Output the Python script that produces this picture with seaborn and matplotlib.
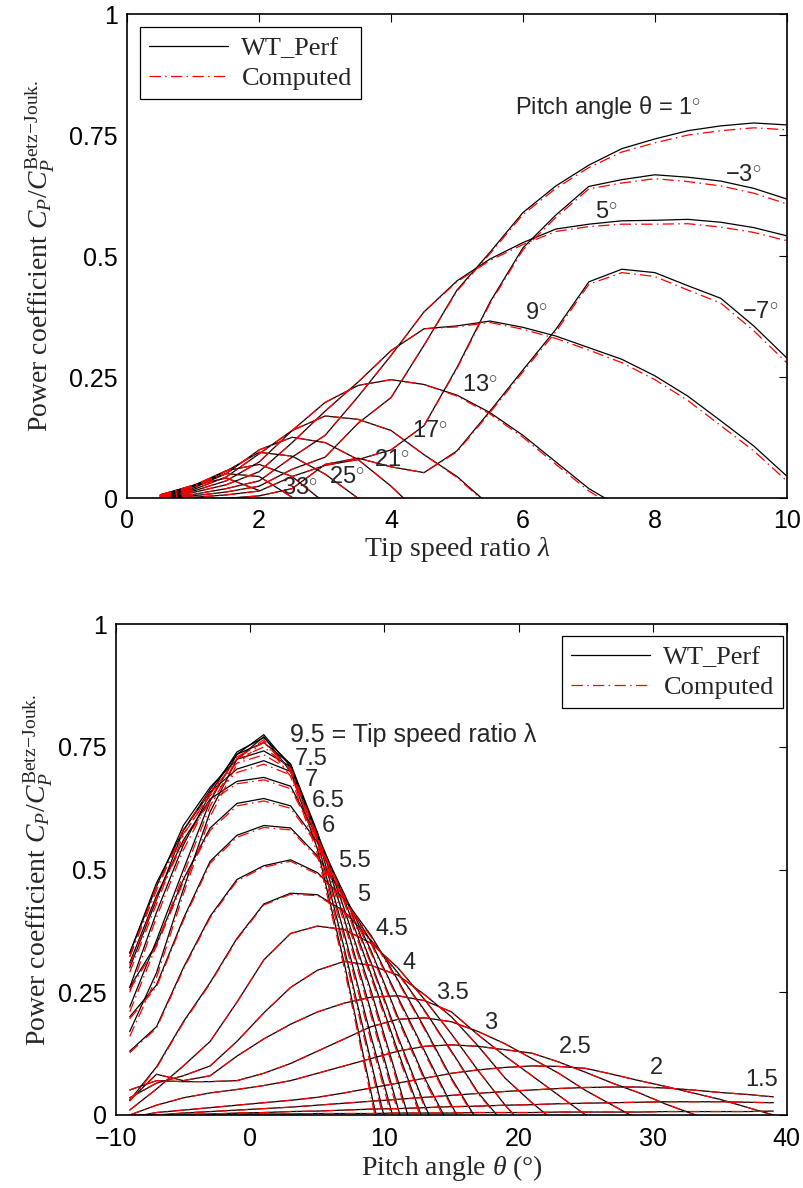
import numpy as np
import pandas as pd
import matplotlib
matplotlib.use("Agg")
import matplotlib.pyplot as plt
import seaborn as sns
from matplotlib.lines import Line2D

# ---------------- data ----------------
pitch_deg = [-9, -7, -5, -3, -1, 1, 3, 5, 7, 9, 11, 13, 15, 17, 19, 21, 23, 25,
             27, 29, 31, 33, 35, 37, 39]
tsr = [0.5, 1.0, 1.5, 2.0, 2.5, 3.0, 3.5, 4.0, 4.5, 5.0, 5.5, 6.0, 6.5, 7.0,
       7.5, 8.0, 8.5, 9.0, 9.5, 10.0]

# WT_Perf Cp / Cp_Betz for each tip speed ratio (rows) across pitch angles
cp_tsr_0_5 = [0.0, 0.0, 0.001, 0.001, 0.002, 0.002, 0.002, 0.003, 0.003, 0.003, 0.004, 0.004, 0.004,
              0.005, 0.005, 0.005, 0.006, 0.006, 0.006, 0.006, 0.007, 0.007, 0.007, 0.007, 0.008]
cp_tsr_1_0 = [0.0, 0.0, 0.001, 0.002, 0.004, 0.005, 0.007, 0.008, 0.010, 0.012, 0.013, 0.015, 0.017,
              0.018, 0.020, 0.021, 0.023, 0.024, 0.025, 0.026, 0.027, 0.027, 0.027, 0.026, 0.025]
cp_tsr_1_5 = [-0.005, 0.0, 0.004, 0.007, 0.010, 0.013, 0.016, 0.020, 0.024, 0.028, 0.032, 0.036, 0.040,
              0.044, 0.048, 0.051, 0.054, 0.056, 0.057, 0.057, 0.055, 0.051, 0.046, 0.042, 0.037]
cp_tsr_2_0 = [-0.005, 0.005, 0.010, 0.015, 0.020, 0.025, 0.030, 0.036, 0.045, 0.055, 0.065, 0.075, 0.085,
              0.092, 0.097, 0.100, 0.099, 0.095, 0.083, 0.070, 0.058, 0.045, 0.032, 0.016, 0.0]
cp_tsr_2_5 = [0.0, 0.020, 0.035, 0.045, 0.052, 0.060, 0.070, 0.085, 0.100, 0.115, 0.130, 0.140, 0.143,
              0.140, 0.133, 0.126, 0.108, 0.087, 0.065, 0.045, 0.022, 0.002, -0.02]
cp_tsr_3_0 = [0.051, 0.070, 0.068, 0.068, 0.070, 0.085, 0.105, 0.130, 0.155, 0.180, 0.195, 0.198, 0.190,
              0.170, 0.145, 0.115, 0.085, 0.050, 0.020, -0.01]
cp_tsr_3_5 = [0.030, 0.083, 0.070, 0.080, 0.120, 0.155, 0.185, 0.210, 0.228, 0.240, 0.243, 0.233, 0.210,
              0.163, 0.120, 0.080, 0.040, 0.0, -0.04]
cp_tsr_4_0 = [0.035, 0.065, 0.080, 0.100, 0.150, 0.208, 0.260, 0.295, 0.313, 0.305, 0.285, 0.245, 0.200,
              0.140, 0.075, 0.025, -0.02]
cp_tsr_4_5 = [0.010, 0.053, 0.100, 0.150, 0.230, 0.316, 0.370, 0.385, 0.378, 0.350, 0.300, 0.235, 0.165,
              0.090, 0.020, -0.04]
cp_tsr_5_0 = [0.030, 0.098, 0.190, 0.270, 0.360, 0.430, 0.452, 0.449, 0.415, 0.356, 0.290, 0.213, 0.130,
              0.045, -0.02]
cp_tsr_5_5 = [0.130, 0.180, 0.300, 0.405, 0.480, 0.508, 0.520, 0.494, 0.440, 0.366, 0.275, 0.177, 0.075,
              -0.015]
cp_tsr_6_0 = [0.200, 0.265, 0.400, 0.517, 0.570, 0.590, 0.585, 0.528, 0.445, 0.353, 0.240, 0.130, 0.020,
              -0.08]
cp_tsr_6_5 = [0.260, 0.349, 0.480, 0.585, 0.635, 0.645, 0.630, 0.556, 0.450, 0.335, 0.200, 0.075, -0.03]
cp_tsr_7_0 = [0.310, 0.447, 0.560, 0.644, 0.680, 0.688, 0.670, 0.566, 0.450, 0.311, 0.160, 0.020, -0.10]
cp_tsr_7_5 = [0.330, 0.473, 0.580, 0.658, 0.705, 0.722, 0.700, 0.573, 0.440, 0.287, 0.130, -0.02]
cp_tsr_8_0 = [0.330, 0.466, 0.590, 0.668, 0.725, 0.742, 0.710, 0.574, 0.420, 0.253, 0.070, -0.12]
cp_tsr_8_5 = [0.300, 0.439, 0.580, 0.663, 0.735, 0.759, 0.715, 0.576, 0.400, 0.211, 0.015, -0.18]
cp_tsr_9_0 = [0.260, 0.413, 0.550, 0.655, 0.740, 0.769, 0.715, 0.570, 0.370, 0.160, -0.04]
cp_tsr_9_5 = [0.220, 0.356, 0.500, 0.640, 0.735, 0.775, 0.710, 0.559, 0.340, 0.108, -0.12]
cp_tsr_10_0 = [0.170, 0.290, 0.460, 0.618, 0.725, 0.771, 0.700, 0.542, 0.310, 0.046, -0.20]

# small offset of the "Computed" curves below WT_Perf, per tip speed ratio
computed_gap = [0.0, 0.0, 0.0, 0.0, 0.0, 0.0, 0.0, 0.0, 0.0, 0.002, 0.003, 0.004, 0.005,
                0.005, 0.007, 0.008, 0.009, 0.010, 0.010, 0.010]

top_pitches = [-7, -3, 1, 5, 9, 13, 17, 21, 25, 29, 33, 37]

# labels
top_labels = [("−3", 9.34, 0.668), ("5", 7.27, 0.592), ("9", 6.21, 0.383), ("−7", 9.60, 0.385),
              ("13", 5.35, 0.234), ("17", 4.59, 0.138), ("21", 4.01, 0.079), ("25", 3.33, 0.045),
              ("33", 2.62, 0.021)]
bottom_labels = [("7.5", 4.57, 0.726), ("7", 4.57, 0.682), ("6.5", 5.82, 0.639), ("6", 5.82, 0.588),
                 ("5.5", 7.77, 0.517), ("5", 8.44, 0.449), ("4.5", 10.56, 0.380), ("4", 11.8, 0.310),
                 ("3.5", 15.05, 0.248), ("3", 17.92, 0.188), ("2.5", 24.2, 0.138), ("2", 30.3, 0.095),
                 ("1.5", 38.1, 0.071)]

# ---------------- build long table ----------------
rows = [cp_tsr_0_5, cp_tsr_1_0, cp_tsr_1_5, cp_tsr_2_0, cp_tsr_2_5, cp_tsr_3_0, cp_tsr_3_5,
        cp_tsr_4_0, cp_tsr_4_5, cp_tsr_5_0, cp_tsr_5_5, cp_tsr_6_0, cp_tsr_6_5, cp_tsr_7_0,
        cp_tsr_7_5, cp_tsr_8_0, cp_tsr_8_5, cp_tsr_9_0, cp_tsr_9_5, cp_tsr_10_0]
recs = []
for lam, row, gap in zip(tsr, rows, computed_gap):
    for th, v in zip(pitch_deg, row):
        recs.append({"lam": lam, "theta": th, "wt": v, "comp": v - gap})
df = pd.DataFrame(recs)

# ---------------- style ----------------
sns.set_style("white")
plt.rcParams["font.family"] = ["Liberation Sans", "DejaVu Sans"]
plt.rcParams["mathtext.fontset"] = "custom"
plt.rcParams["mathtext.rm"] = "Liberation Serif"
plt.rcParams["mathtext.it"] = "Liberation Serif:italic"
plt.rcParams["mathtext.bf"] = "Liberation Serif:bold"

fig = plt.figure(figsize=(8.04, 11.88), dpi=100)
ax1 = fig.add_axes([127.3 / 804, 1 - 498.3 / 1188, 659.4 / 804, 484.3 / 1188])
ax2 = fig.add_axes([116.3 / 804, 1 - 1115 / 1188, 670.4 / 804, 490.7 / 1188])

LW = 0.9
red_dash = (0, (9, 3.5, 1.2, 3.5))
serif = ["Liberation Serif", "DejaVu Serif"]

# top: Cp vs tip speed ratio for several pitch angles
top_df = df[df["theta"].isin(top_pitches)]
sns.lineplot(data=top_df, x="lam", y="wt", units="theta", estimator=None, sort=True,
             color="black", lw=LW, ax=ax1, legend=False)
sns.lineplot(data=top_df, x="lam", y="comp", units="theta", estimator=None, sort=True,
             color="red", lw=LW, linestyle=red_dash, ax=ax1, legend=False)

# bottom: Cp vs pitch angle for every tip speed ratio
sns.lineplot(data=df, x="theta", y="wt", units="lam", estimator=None, sort=True,
             color="black", lw=LW, ax=ax2, legend=False)
sns.lineplot(data=df, x="theta", y="comp", units="lam", estimator=None, sort=True,
             color="red", lw=LW, linestyle=red_dash, ax=ax2, legend=False)

ylab = r"Power coefficient $C_P/C_P^{\mathrm{Betz\!-\!Jouk.}}$"
handles = [Line2D([], [], color="black", lw=LW),
           Line2D([], [], color="red", lw=LW, linestyle=red_dash)]
for ax in (ax1, ax2):
    ax.set_ylim(0, 1)
    ax.set_yticks([0, 0.25, 0.5, 0.75, 1])
    ax.set_yticklabels(["0", "0.25", "0.5", "0.75", "1"])
    ax.tick_params(direction="in", top=True, right=True, length=6, width=0.8,
                   labelsize=18, colors="black", pad=7)
    for s in ax.spines.values():
        s.set_linewidth(1.2)
        s.set_color("black")
    ax.set_ylabel(ylab, fontsize=20, family=serif)
    ax.grid(False)

ax1.set_xlim(0, 10)
ax1.set_xticks([0, 2, 4, 6, 8, 10])
ax1.tick_params(axis="x", pad=8)
ax1.set_xlabel(r"Tip speed ratio $\lambda$", fontsize=20, family=serif, labelpad=1)
ax1.yaxis.set_label_coords(-0.107, 0.5)

ax2.set_xlim(-10, 40)
ax2.set_xticks([-10, 0, 10, 20, 30, 40])
ax2.set_xticklabels(["−10", "0", "10", "20", "30", "40"])
ax2.tick_params(axis="x", pad=9)
ax2.set_xlabel(r"Pitch angle $\theta$ (°)", fontsize=20, family=serif, labelpad=1)
ax2.yaxis.set_label_coords(-0.092, 0.5)

leg_kw = dict(frameon=True, fancybox=False, framealpha=1, edgecolor="black",
              prop={"family": serif, "size": 19}, handlelength=3.0, borderaxespad=0,
              borderpad=0.35, labelspacing=0.25, handletextpad=0.5)
l1 = ax1.legend(handles, ["WT_Perf", "Computed"], loc="upper left",
                bbox_to_anchor=(0.019, 0.973), **leg_kw)
l2 = ax2.legend(handles, ["WT_Perf", "Computed"], loc="upper right",
                bbox_to_anchor=(0.9945, 0.9755), **leg_kw)
for lg in (l1, l2):
    lg.get_frame().set_linewidth(0.9)

# annotations
ax1.text(5.88, 0.806, r"Pitch angle θ = 1$^{\circ}$", fontsize=17, ha="left", va="center")
for txt, x, y in top_labels:
    ax1.text(x, y, txt + r"$^{\circ}$", fontsize=17, ha="center", va="center")

ax2.text(2.96, 0.774, "9.5 = Tip speed ratio λ", fontsize=18, ha="left", va="center")
for txt, x, y in bottom_labels:
    ax2.text(x, y, txt, fontsize=17, ha="center", va="center")

fig.savefig("out.png", dpi=100)
